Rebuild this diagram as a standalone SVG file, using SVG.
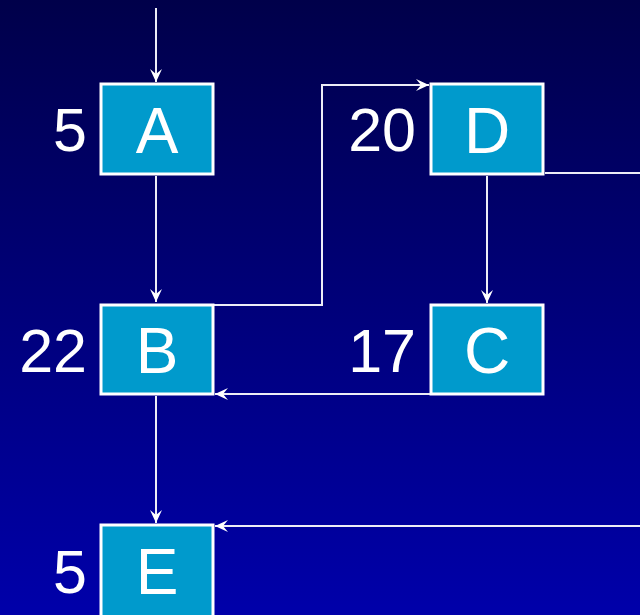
<svg xmlns="http://www.w3.org/2000/svg" width="640" height="615" viewBox="0 0 640 615">
<defs>
<linearGradient id="bg" x1="0" y1="0" x2="0" y2="1">
<stop offset="0" stop-color="#00004a"/>
<stop offset="1" stop-color="#0000aa"/>
</linearGradient>
<marker id="arr" markerUnits="userSpaceOnUse" markerWidth="16" markerHeight="16" viewBox="-14 -8 16 16" refX="0" refY="0" orient="auto">
<path d="M0,0 L-13,-6 L-8,0 L-13,6 Z" fill="#ffffff"/>
</marker>
<style>
.box{fill:#009acc;stroke:#ffffff;stroke-width:3}
.lbl{font-family:"Liberation Sans",Arial,sans-serif;font-size:64px;fill:#ffffff;text-anchor:middle}
.num{font-family:"Liberation Sans",Arial,sans-serif;font-size:61px;fill:#ffffff;text-anchor:end}
.con{fill:none;stroke:#ececf6;stroke-width:2}
</style>
</defs>
<rect x="0" y="0" width="640" height="615" fill="url(#bg)"/>
<g id="connectors">
<path class="con" d="M156,8 V82" marker-end="url(#arr)"/>
<path class="con" d="M156,176 V302" marker-end="url(#arr)"/>
<path class="con" d="M156,396 V523" marker-end="url(#arr)"/>
<path class="con" d="M214,305 H322 V85 H429" marker-end="url(#arr)"/>
<path class="con" d="M487,176 V303" marker-end="url(#arr)"/>
<path class="con" d="M430,394 H215" marker-end="url(#arr)"/>
<path class="con" d="M545,173 H640"/>
<path class="con" d="M640,526 H215" marker-end="url(#arr)"/>
</g>
<g id="node-A">
<rect class="box" x="101" y="84" width="112" height="90"/>
<text class="lbl" x="157" y="153">A</text>
<text class="num" x="87" y="151">5</text>
</g>
<g id="node-D">
<rect class="box" x="431" y="84" width="112" height="90"/>
<text class="lbl" x="487" y="153">D</text>
<text class="num" x="416" y="151">20</text>
</g>
<g id="node-B">
<rect class="box" x="101" y="305" width="112" height="89"/>
<text class="lbl" x="157" y="373">B</text>
<text class="num" x="87" y="372">22</text>
</g>
<g id="node-C">
<rect class="box" x="431" y="305" width="112" height="89"/>
<text class="lbl" x="487" y="373">C</text>
<text class="num" x="416" y="372">17</text>
</g>
<g id="node-E">
<rect class="box" x="101" y="525" width="112" height="100"/>
<text class="lbl" x="157" y="594">E</text>
<text class="num" x="87" y="593">5</text>
</g>
</svg>
